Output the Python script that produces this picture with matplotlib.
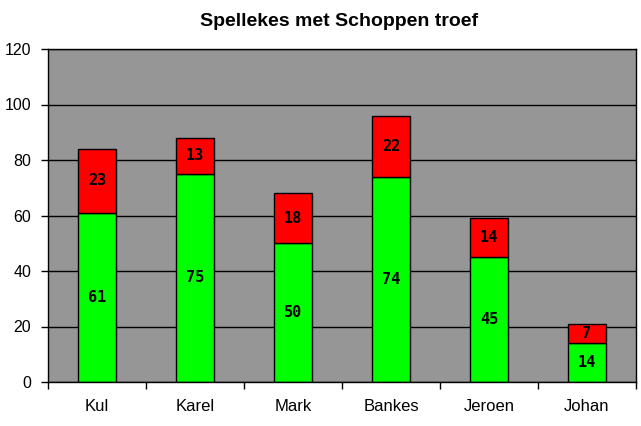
import matplotlib.pyplot as plt
import numpy as np

players = ["Kul", "Karel", "Mark", "Bankes", "Jeroen", "Johan"]
won = [61, 75, 50, 74, 45, 14]
lost = [23, 13, 18, 22, 14, 7]

fig = plt.figure(figsize=(6.41, 4.26), dpi=100)
ax = fig.add_axes([48 / 641, 44 / 426, 588 / 641, 333 / 426])
ax.set_facecolor("#969696")
ax.set_axisbelow(True)

x = np.arange(len(players))
w = 0.39
ax.bar(x, won, w, color="#00ff00", edgecolor="black", linewidth=1)
ax.bar(x, lost, w, bottom=won, color="#ff0000", edgecolor="black", linewidth=1)

lab = dict(ha="center", va="center", fontsize=11, fontweight="bold",
           family="DejaVu Sans Mono", color="black")
for i in range(len(players)):
    ax.text(x[i], won[i] / 2, str(won[i]), **lab)
    ax.text(x[i], won[i] + lost[i] / 2, str(lost[i]), **lab)

ax.set_xlim(-0.5, len(players) - 0.5)
ax.set_ylim(0, 120)
ax.set_yticks(range(0, 121, 20))
ax.yaxis.grid(True, color="black", linewidth=1)
ax.set_xticks(np.arange(-0.5, len(players), 1.0))
ax.set_xticklabels([])
ax.set_xticks(x, minor=True)
ax.set_xticklabels(players, minor=True)
ax.tick_params(axis="x", which="minor", length=0, pad=12, labelsize=12)
ax.tick_params(axis="x", which="major", length=5, width=1)
ax.tick_params(axis="y", length=5, width=1, labelsize=11.5, pad=7)
for t in ax.get_yticklabels() + ax.get_xticklabels(minor=True):
    t.set_family("Liberation Sans")
for s in ax.spines.values():
    s.set_linewidth(1)

fig.text(339 / 641, 1 - 21 / 426, "Spellekes met Schoppen troef", ha="center", va="center",
         fontsize=14, fontweight="bold", family="Liberation Sans")

fig.savefig("out.png", dpi=100, facecolor="white")
